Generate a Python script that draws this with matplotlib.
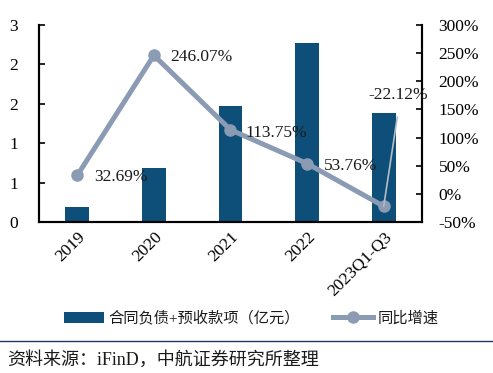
from __future__ import annotations

import matplotlib
import matplotlib.pyplot as plt
from matplotlib.lines import Line2D
from matplotlib.ticker import FixedLocator, FormatStrFormatter

matplotlib.use("Agg")

OUTPUT_PATH = "out.png"
BAR_COLOR = "#0D4F78"
LINE_COLOR = "#8A9BB3"
TEXT_COLOR = "#1A1A1A"

CATEGORIES = ["2019", "2020", "2021", "2022", "2023Q1-Q3"]
BAR_VALUES = [0.23, 0.82, 1.77, 2.73, 1.66]
GROWTH_VALUES = [32.69, 246.07, 113.75, 53.76, -22.12]
GROWTH_LABELS = ["32.69%", "246.07%", "113.75%", "53.76%", "-22.12%"]
LEFT_TICKS = [0, 0.6, 1.2, 1.8, 2.4, 3.0]
RIGHT_TICKS = [-50, 0, 50, 100, 150, 200, 250, 300]
BAR_NAME = "合同负债+预收款项（亿元）"
LINE_NAME = "同比增速"
SOURCE_TEXT = "资料来源：iFinD，中航证券研究所整理"

# label offsets in points, (dx, dy) from each point
LABEL_OFFSETS = [(12, -1.5), (12, -1.5), (11, -2), (12, -1.5), (-11, 80)]


def main() -> None:
    plt.rcParams["font.family"] = ["Liberation Serif", "Noto Sans CJK SC"]
    plt.rcParams["font.size"] = 12.5
    plt.rcParams["text.color"] = TEXT_COLOR

    fig = plt.figure(figsize=(4.93, 3.73), dpi=100)
    ax = fig.add_axes([0.079, 0.405, 0.777, 0.528])
    x = list(range(len(CATEGORIES)))

    bars = ax.bar(x, BAR_VALUES, width=0.31, color=BAR_COLOR, zorder=2)
    ax.set_xlim(-0.5, len(CATEGORIES) - 0.5)
    ax.set_ylim(0, 3)
    ax.yaxis.set_major_locator(FixedLocator(LEFT_TICKS))
    ax.yaxis.set_major_formatter(FormatStrFormatter("%.0f"))
    ax.set_xticks(x)
    ax.set_xticklabels(CATEGORIES, rotation=45, ha="right", va="top", rotation_mode="anchor")
    ax.tick_params(axis="x", length=0, pad=5)
    ax.tick_params(axis="y", direction="in", length=4, width=1.2, pad=15)
    ax.spines["top"].set_visible(False)
    for side in ("left", "bottom", "right"):
        ax.spines[side].set_linewidth(1.5)

    ax2 = ax.twinx()
    line, = ax2.plot(x, GROWTH_VALUES, color=LINE_COLOR, lw=3.6, marker="o", markersize=8, zorder=3)
    ax2.set_ylim(-50, 300)
    ax2.yaxis.set_major_locator(FixedLocator(RIGHT_TICKS))
    ax2.yaxis.set_major_formatter(FormatStrFormatter("%d%%"))
    ax2.tick_params(axis="y", direction="in", length=4, width=1.2, pad=12)
    ax2.spines["top"].set_visible(False)
    for side in ("left", "bottom", "right"):
        ax2.spines[side].set_linewidth(1.5)

    for i, (value, label) in enumerate(zip(GROWTH_VALUES, GROWTH_LABELS)):
        dx, dy = LABEL_OFFSETS[i]
        if i == len(GROWTH_VALUES) - 1:
            ax2.annotate(label, (i, value), xytext=(dx, dy), textcoords="offset points",
                         ha="left", va="center",
                         arrowprops=dict(arrowstyle="-", color="#B4BCC8", lw=1.2,
                                         shrinkA=8, shrinkB=0, relpos=(0.52, 0.0)))
        else:
            ax2.annotate(label, (i, value), xytext=(dx, dy), textcoords="offset points",
                         ha="left", va="center")

    fig.legend([bars, line], [BAR_NAME, LINE_NAME], loc="center", bbox_to_anchor=(0.51, 0.147),
               ncol=2, frameon=False, fontsize=11, handlelength=2.6, handleheight=0.7,
               columnspacing=2.2, handletextpad=0.3)

    fig.add_artist(Line2D([0, 1], [0.086, 0.086], transform=fig.transFigure, color="#1F3864", lw=1.0))
    fig.text(0.014, 0.035, SOURCE_TEXT, ha="left", va="center", fontsize=13)

    fig.savefig(OUTPUT_PATH, dpi=100)
    plt.close(fig)


if __name__ == "__main__":
    main()
